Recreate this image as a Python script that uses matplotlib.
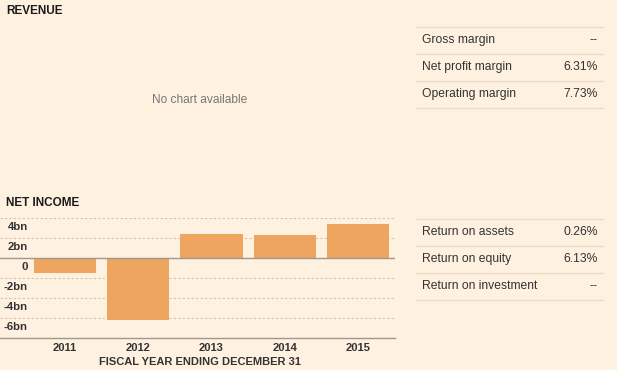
import matplotlib
matplotlib.use("Agg")
import matplotlib.pyplot as plt
import matplotlib.transforms as mtransforms

#=======================================================================
# data
#=======================================================================

years = ["2011", "2012", "2013", "2014", "2015"]
net_income = [-1.5, -6.27, 2.45, 2.35, 3.4]   # bn
ytick_vals = [4, 2, 0, -2, -4, -6]
ytick_labels = ["4bn", "2bn", "0", "-2bn", "-4bn", "-6bn"]

margin_names = ["Gross margin", "Net profit margin", "Operating margin"]
margin_vals = ["--", "6.31%", "7.73%"]
return_names = ["Return on assets", "Return on equity", "Return on investment"]
return_vals = ["0.26%", "6.13%", "--"]

#=======================================================================
# style
#=======================================================================

plt.rcParams['font.family'] = ['Liberation Sans', 'DejaVu Sans']
BG = "#fff1e0"
BAR = "#eda55f"
W, H = 617, 370

fig = plt.figure(figsize=(W/100, H/100), dpi=100, facecolor=BG)

def px(x, y):
    # pixel coords (top-left origin) -> figure fraction
    return x / W, 1 - y / H

def ftext(x, y, s, **kw):
    fx, fy = px(x, y)
    fig.text(fx, fy, s, **kw)

#=======================================================================
# titles
#=======================================================================

ftext(6, 11, "REVENUE", fontsize=8.5, fontweight="bold", color="#1a1a1a", va="center")
ftext(200, 100, "No chart available", fontsize=8.6, color="#777777", ha="center", va="center")
ftext(6, 203, "NET INCOME", fontsize=8.5, fontweight="bold", color="#1a1a1a", va="center")

#=======================================================================
# tables on the right
#=======================================================================

def draw_table(names, vals, top):
    rows = len(names)
    for i in range(rows + 1):
        yy = top + i * 27
        fig.add_artist(plt.Line2D([416/W, 603/W], [1 - yy/H, 1 - yy/H],
                                  color="#e9ddce", lw=1, transform=fig.transFigure))
    for i in range(rows):
        yc = top + i * 27 + 13.5
        ftext(422, yc, names[i], fontsize=8.7, color="#333333", va="center")
        ftext(598, yc, vals[i], fontsize=8.7, color="#333333", va="center", ha="right")

draw_table(margin_names, margin_vals, 26.5)
draw_table(return_names, return_vals, 218.5)

#=======================================================================
# net income bar chart
#=======================================================================

left, bottom = px(0, 337.5)
right, top = px(395, 218.3)
ax = fig.add_axes([left, bottom, right - left, top - bottom])
ax.set_facecolor(BG)

xs = range(len(years))
ax.bar(xs, net_income, width=0.85, color=BAR, zorder=2)

ax.set_xlim(-0.887, 4.505)
ax.set_ylim(-8, 4)

for v in ytick_vals:
    if v == 0:
        ax.axhline(v, color="#a0978e", lw=1, zorder=3)
    else:
        ax.axhline(v, color="#cfc5ba", lw=0.8, ls=(0, (2, 2)), zorder=1)

for s in ["top", "left", "right"]:
    ax.spines[s].set_visible(False)
ax.spines["bottom"].set_color("#a0978e")
ax.spines["bottom"].set_linewidth(1)

ax.set_yticks([])
ax.set_xticks(list(xs))
ax.set_xticklabels(years, fontsize=8, fontweight="bold", color="#333333")
ax.tick_params(axis="x", length=0, pad=4)

trans = mtransforms.blended_transform_factory(ax.transAxes, ax.transData)
for v, lab in zip(ytick_vals, ytick_labels):
    ax.text(28/395, v - 0.9, lab, transform=trans, ha="right", va="center",
            fontsize=8.2, fontweight="bold", color="#333333")

ftext(200, 362, "FISCAL YEAR ENDING DECEMBER 31", fontsize=8, fontweight="bold",
      color="#333333", ha="center", va="center")

fig.savefig("out.png", dpi=100, facecolor=BG)
